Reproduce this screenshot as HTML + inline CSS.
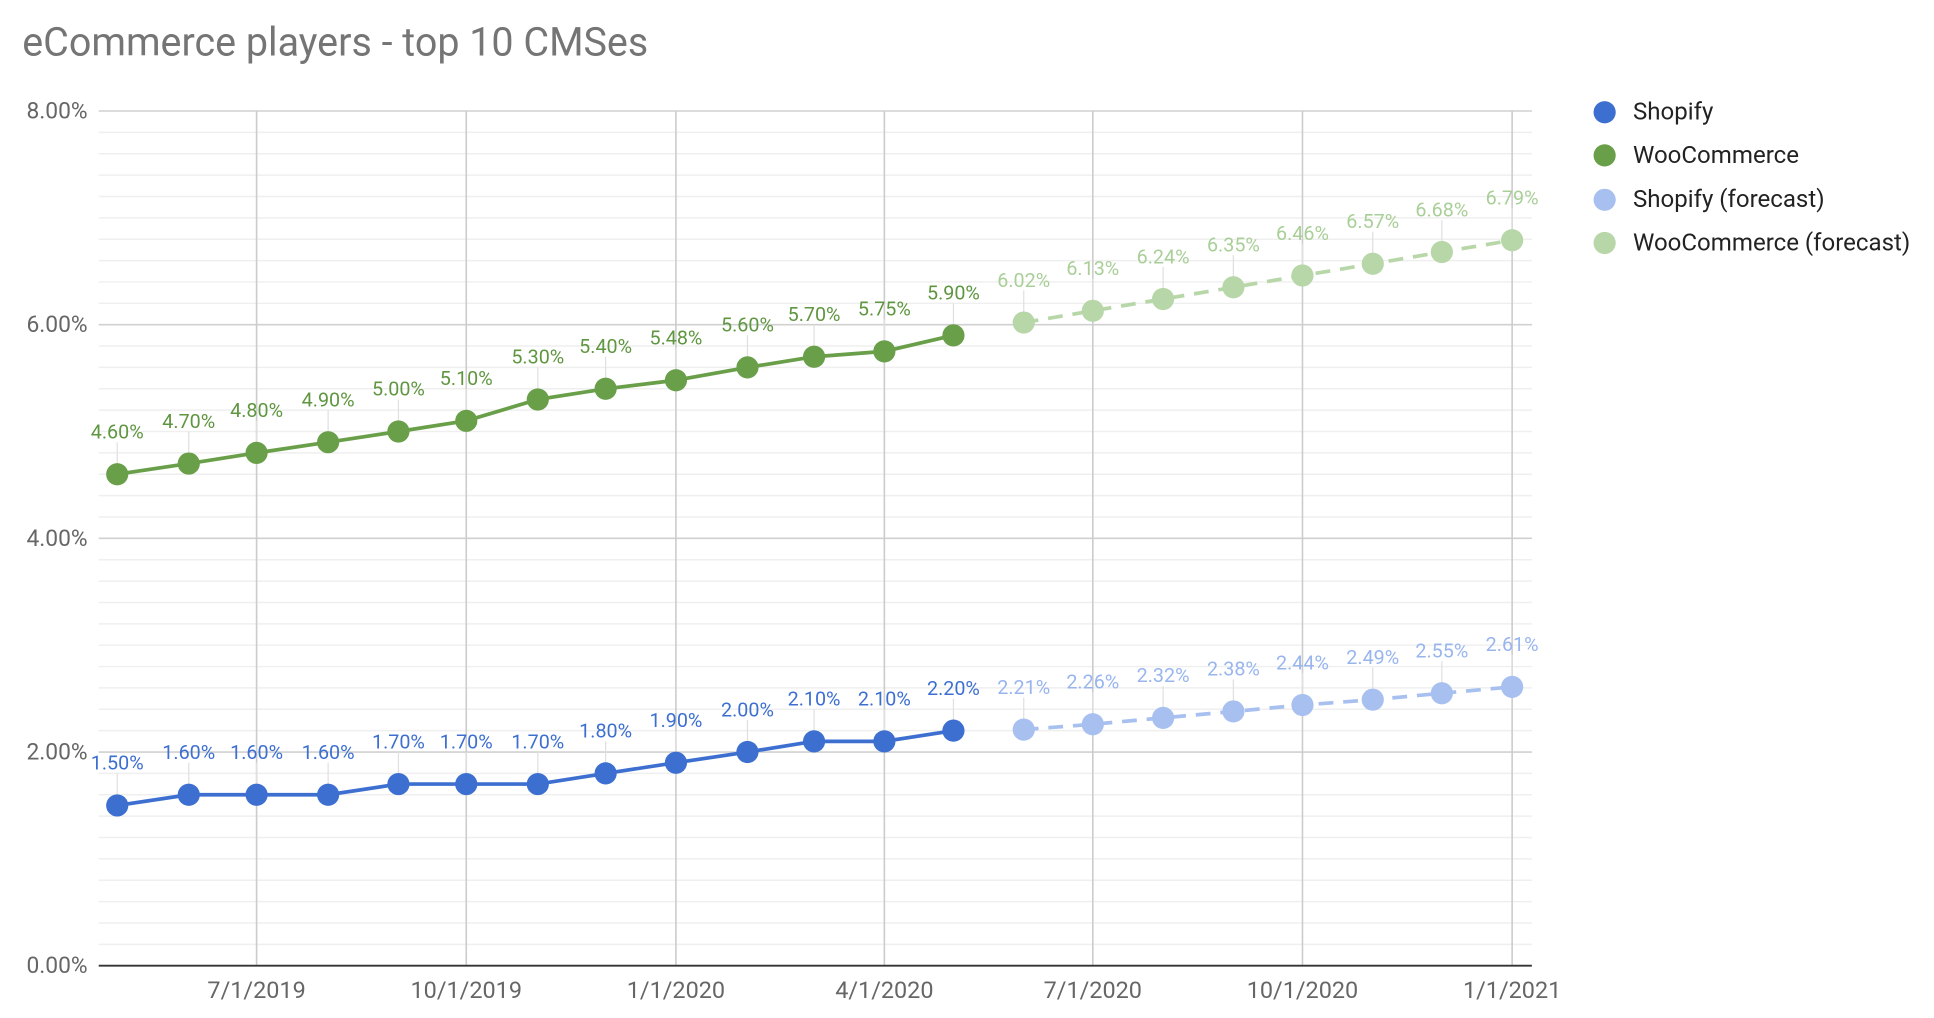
<!DOCTYPE html>
<html><head><meta charset="utf-8"><style>html,body{margin:0;padding:0;background:#fff}svg{display:block}</style></head><body>
<svg id="s" width="1934" height="1018" viewBox="0 0 1568 825.4" xmlns="http://www.w3.org/2000/svg" font-family="Roboto, 'Liberation Sans', sans-serif">
<text x="18" y="45" font-size="32" fill="#757575">eCommerce players - top 10 CMSes</text>
<g id="grid"></g>
<g id="data"></g>
<g font-size="19.5" fill="#222">
<circle cx="1301" cy="91" r="9" fill="#3d6fd1"/><text x="1324" y="97">Shopify</text>
<circle cx="1301" cy="126" r="9" fill="#6a9f4a"/><text x="1324" y="132">WooCommerce</text>
<circle cx="1301" cy="162" r="9" fill="#a7c0f0"/><text x="1324" y="168">Shopify (forecast)</text>
<circle cx="1301" cy="197" r="9" fill="#b7d7a8"/><text x="1324" y="203">WooCommerce (forecast)</text>
</g>
</svg>
<script>
const NS="http://www.w3.org/2000/svg";
function el(p,t,a,txt){const e=document.createElementNS(NS,t);for(const k in a)e.setAttribute(k,a[k]);if(txt!=null)e.textContent=txt;p.appendChild(e);return e;}
const g=document.getElementById('grid'),d=document.getElementById('data');
const Y=v=>783-86.625*v;
for(let i=0;i<40;i++){const y=90+i*(693/40);if(i%10)el(g,'line',{x1:80,x2:1242,y1:y,y2:y,stroke:'#efefef','stroke-width':1.2});}
[8,6,4,2].forEach(v=>{el(g,'line',{x1:80,x2:1242,y1:Y(v),y2:Y(v),stroke:'#d0d0d0','stroke-width':1.3});el(g,'text',{x:71,y:Y(v)+6,'text-anchor':'end','font-size':18.5,fill:'#666'},v.toFixed(2)+'%');});
el(g,'text',{x:71,y:789,'text-anchor':'end','font-size':18.5,fill:'#666'},'0.00%');
const xs=[95,153,208,266,323,378,436,491,548,606,660,717,773,830,886,943,1000,1056,1113,1169,1226];
const vx={208:'7/1/2019',378:'10/1/2019',548:'1/1/2020',717:'4/1/2020',886:'7/1/2020',1056:'10/1/2020',1226:'1/1/2021'};
for(const x in vx){el(g,'line',{x1:x,x2:x,y1:90,y2:783,stroke:'#cccccc','stroke-width':1.3});el(g,'text',{x:x,y:809,'text-anchor':'middle','font-size':19,fill:'#666'},vx[x]);}
el(g,'line',{x1:80,x2:1242,y1:783,y2:783,stroke:'#333','stroke-width':1.5});
const shop=[1.5,1.6,1.6,1.6,1.7,1.7,1.7,1.8,1.9,2.0,2.1,2.1,2.2];
const shopF=[2.21,2.26,2.32,2.38,2.44,2.49,2.55,2.61];
const woo=[4.6,4.7,4.8,4.9,5.0,5.1,5.3,5.4,5.48,5.6,5.7,5.75,5.9];
const wooF=[6.02,6.13,6.24,6.35,6.46,6.57,6.68,6.79];
function series(vals,off,col,dash,lblcol){
 const pts=vals.map((v,i)=>[xs[i+off],Y(v)]);
 vals.forEach((v,i)=>{const [x,y]=pts[i];el(d,'line',{x1:x,x2:x,y1:y-26,y2:y,stroke:'#e0e0e0','stroke-width':1});});
 el(d,'polyline',{points:pts.map(p=>p.join(',')).join(' '),fill:'none',stroke:col,'stroke-width':3,'stroke-dasharray':dash?'12,8':'none'});
 vals.forEach((v,i)=>{const [x,y]=pts[i];el(d,'circle',{cx:x,cy:y,r:9,fill:col});
  el(d,'text',{x:x,y:y-29,'text-anchor':'middle','font-size':16,fill:lblcol},v.toFixed(2)+'%');});
}
series(woo,0,'#6a9f4a',false,'#5f9640');
series(wooF,13,'#b7d7a8',true,'#a9cf98');
series(shop,0,'#3d6fd1',false,'#3d6fd1');
series(shopF,13,'#a7c0f0',true,'#98b5ee');
</script>
</body></html>
